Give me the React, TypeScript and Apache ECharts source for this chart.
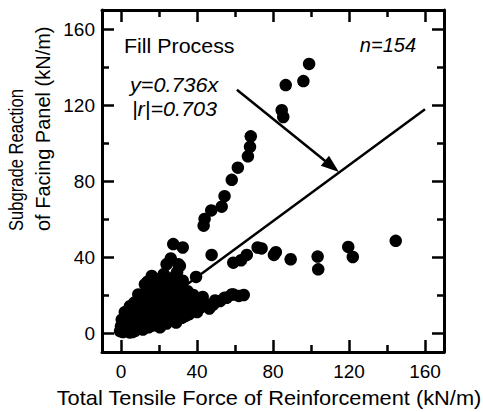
import React, { useEffect, useRef } from 'react';
import * as echarts from 'echarts';

const AXIS_MIN = -10;
const AXIS_MAX = 170;
const MAJOR_TICKS = [0, 40, 80, 120, 160];
const MINOR_TICKS = [20, 60, 100, 140];

// dense cluster near the origin
const originCluster: number[][] = [
  [-0.5, 1], [0, 3.5], [0.4, 7], [1, 0.5], [1.5, 5], [2, 2], [2, 11], [2.5, 9], [3, 4], [3, 1.5],
  [4.5, 0.3], [4, 6.5], [4.5, 12], [4.7, 14.1], [5, 2.5], [5.5, 8.5], [6, 4.5], [6, 0.5], [6.5, 14], [7, 16],
  [7.5, 10.5], [8, 6], [8, 2.5], [9, 17], [9.1, 20.3], [9.5, 8], [10, 12.5], [10.5, 4.5], [11, 20], [11.5, 1.8],
  [12, 9.5], [12.5, 15], [12.6, 25.6], [13, 6], [13.5, 22], [14, 11], [14.5, 3], [14, 27], [15, 18], [15.5, 8],
  [16, 25], [16.2, 30], [16.5, 13], [17, 4], [17.5, 21], [18, 10], [18.8, 28.3], [19, 16], [19.5, 6], [20, 24],
  [20.5, 3], [21, 12], [21.5, 19], [22, 8], [22.5, 31], [23, 15], [23.5, 26], [24, 5], [24.5, 11], [25, 21],
  [25.5, 17], [26, 7], [26.5, 28], [27.5, 23], [28, 9], [28.5, 17], [29, 5.5], [29.5, 32], [30, 20], [30.5, 11],
  [31, 15], [31.5, 25], [32, 8], [33, 18], [33.5, 12], [34, 9], [35, 22], [35.5, 14], [36, 10], [37, 17],
  [37.5, 12], [38, 20], [39, 14], [40, 11], [40.5, 16], [7.5, 1.2], [3, 6], [6, 11], [9, 5], [13, 13.5],
  [17, 18.5], [20, 9], [23, 19], [27, 14], [29, 26], [34, 16], [36, 19], [32, 22], [21, 27], [19, 22.5],
  [15, 22.5], [10.5, 16], [32.5, 27.5], [28, 29.5], [43, 19],
];

// upper part of the cluster (y ~ 35-47)
const upperCluster: number[][] = [
  [27.5, 46.8], [32.5, 45], [26.2, 39.2], [30.2, 36.2], [24, 36.2], [31, 35.3],
];

// steep upper branch
const upperBranch: number[][] = [
  [43.5, 56.5], [44, 60], [47.5, 64.5], [53, 66.5], [54.5, 72], [58.3, 80.6], [61.5, 87], [66.8, 93], [67.9, 98], [68.3, 103.5],
];

// top right group
const topRight: number[][] = [
  [84.6, 117.3], [85.4, 113.7], [86.7, 130.5], [96, 132.6], [99, 141.6],
];

// middle band (y ~ 30-50)
const middleBand: number[][] = [
  [39.5, 29.5], [47.7, 41.1], [59.1, 37], [63.2, 38.3], [66.2, 41.1], [71.9, 45], [74, 44.5], [80.5, 41.1], [81.5, 42.5],
  [89.3, 38.8], [103.5, 40.2], [103.8, 33.5], [119.6, 45.3], [122, 40], [144.6, 48.5],
];

// lower branch (y ~ 12-21)
const lowerBranch: number[][] = [
  [41.6, 13.2], [45, 15], [46.5, 12.9], [48.6, 15], [49.5, 17.1], [52.1, 16.8], [54.4, 18.5], [55.6, 18.5],
  [58.3, 20.3], [59.1, 20.3], [62, 19.5], [64.6, 20],
];

const FIT_SLOPE = 0.736;
const FIT_X = [0, 160];
const ARROW = [61, 128, 114.7, 84.7];

const FONT = '"Liberation Sans", Arial, sans-serif';

function makeX(gridIndex: number, position: string, ticks: number[], len: number, showLabel: boolean, showLine: boolean) {
  return {
    type: 'value', gridIndex, position, min: AXIS_MIN, max: AXIS_MAX,
    axisLine: { show: showLine, onZero: false, lineStyle: { color: '#000', width: 3 } },
    axisTick: { show: true, inside: true, length: len, customValues: ticks, lineStyle: { color: '#000', width: 2.5 } },
    axisLabel: { show: showLabel, customValues: ticks, margin: 10, fontSize: 19, color: '#000', fontFamily: FONT },
    splitLine: { show: false },
  };
}
function makeY(gridIndex: number, position: string, ticks: number[], len: number, showLabel: boolean, showLine: boolean) {
  return {
    type: 'value', gridIndex, position, min: AXIS_MIN, max: AXIS_MAX,
    axisLine: { show: showLine, onZero: false, lineStyle: { color: '#000', width: 3 } },
    axisTick: { show: true, inside: true, length: len, customValues: ticks, lineStyle: { color: '#000', width: 2.5 } },
    axisLabel: { show: showLabel, customValues: ticks, margin: 7, fontSize: 19, color: '#000', fontFamily: FONT },
    splitLine: { show: false },
  };
}

export default function App() {
  const ref = useRef<HTMLDivElement>(null);
  useEffect(() => {
    if (!ref.current) return;
    const chart = echarts.init(ref.current, undefined, { renderer: 'svg' });
    const allPoints = [...originCluster, ...upperCluster, ...upperBranch, ...topRight, ...middleBand, ...lowerBranch];
    const gridRect = { left: 102, top: 10, width: 342, height: 342 };
    chart.setOption({
      animation: false,
      backgroundColor: '#fff',
      grid: [{ ...gridRect }, { ...gridRect }],
      xAxis: [
        makeX(0, 'bottom', MAJOR_TICKS, 12, true, true),
        makeX(0, 'top', MAJOR_TICKS, 12, false, true),
        makeX(1, 'bottom', MINOR_TICKS, 7, false, false),
        makeX(1, 'top', MINOR_TICKS, 7, false, false),
      ],
      yAxis: [
        makeY(0, 'left', MAJOR_TICKS, 12, true, true),
        makeY(0, 'right', MAJOR_TICKS, 12, false, true),
        makeY(1, 'left', MINOR_TICKS, 7, false, false),
        makeY(1, 'right', MINOR_TICKS, 7, false, false),
      ],
      series: [
        {
          type: 'line', xAxisIndex: 0, yAxisIndex: 0, z: 1,
          data: FIT_X.map((x) => [x, FIT_SLOPE * x]),
          symbol: 'none', lineStyle: { color: '#000', width: 2.5 },
        },
        {
          type: 'scatter', xAxisIndex: 0, yAxisIndex: 0, z: 2,
          data: allPoints, symbol: 'circle', symbolSize: 12.5,
          itemStyle: { color: '#000', opacity: 1 },
        },
        {
          type: 'custom', xAxisIndex: 0, yAxisIndex: 0, z: 3,
          data: [ARROW],
          encode: { x: [0, 2], y: [1, 3] },
          renderItem: (params: any, api: any) => {
            const a = api.coord([api.value(0), api.value(1)]);
            const b = api.coord([api.value(2), api.value(3)]);
            const dx = b[0] - a[0];
            const dy = b[1] - a[1];
            const L = Math.hypot(dx, dy);
            const ux = dx / L, uy = dy / L;
            const hl = 18, hw = 6.5;
            const bx = b[0] - ux * hl, by = b[1] - uy * hl;
            const nx = -uy, ny = ux;
            return {
              type: 'group',
              children: [
                { type: 'line', shape: { x1: a[0], y1: a[1], x2: bx + ux * 2, y2: by + uy * 2 }, style: { stroke: '#000', lineWidth: 2.5 } },
                { type: 'polygon', shape: { points: [[b[0], b[1]], [bx + nx * hw, by + ny * hw], [bx - nx * hw, by - ny * hw]] }, style: { fill: '#000' } },
              ],
            };
          },
        },
      ],
      graphic: [
        { type: 'text', x: 124, y: 46, scaleX: 1.07, style: { text: 'Fill Process', fontSize: 20, fontFamily: FONT, fill: '#000', align: 'left', verticalAlign: 'middle' } },
        { type: 'text', x: 130, y: 85, scaleX: 1.08, style: { text: 'y=0.736x', fontSize: 20, fontStyle: 'italic', fontFamily: FONT, fill: '#000', align: 'left', verticalAlign: 'middle' } },
        { type: 'text', x: 132, y: 109, scaleX: 1.08, style: { text: '|r|=0.703', fontSize: 20, fontStyle: 'italic', fontFamily: FONT, fill: '#000', align: 'left', verticalAlign: 'middle' } },
        { type: 'text', x: 416, y: 45, style: { text: 'n=154', fontSize: 20, fontStyle: 'italic', fontFamily: FONT, fill: '#000', align: 'right', verticalAlign: 'middle' } },
        { type: 'text', x: 269, y: 398, scaleX: 1.09, style: { text: 'Total Tensile Force of Reinforcement (kN/m)', fontSize: 20, fontFamily: FONT, fill: '#000', align: 'center', verticalAlign: 'middle' } },
        { type: 'text', x: 6, y: 231, rotation: Math.PI / 2, scaleX: 0.83, style: { text: 'Subgrade Reaction', fontSize: 20, fontFamily: FONT, fill: '#000', align: 'left', verticalAlign: 'top' } },
        { type: 'text', x: 33, y: 231, rotation: Math.PI / 2, style: { text: 'of Facing Panel (kN/m)', fontSize: 20, fontFamily: FONT, fill: '#000', align: 'left', verticalAlign: 'top' } },
      ],
    });
    return () => chart.dispose();
  }, []);
  return <div ref={ref} style={{ position: 'fixed', left: 0, top: 0, width: 483, height: 412, background: '#fff' }} />;
}
